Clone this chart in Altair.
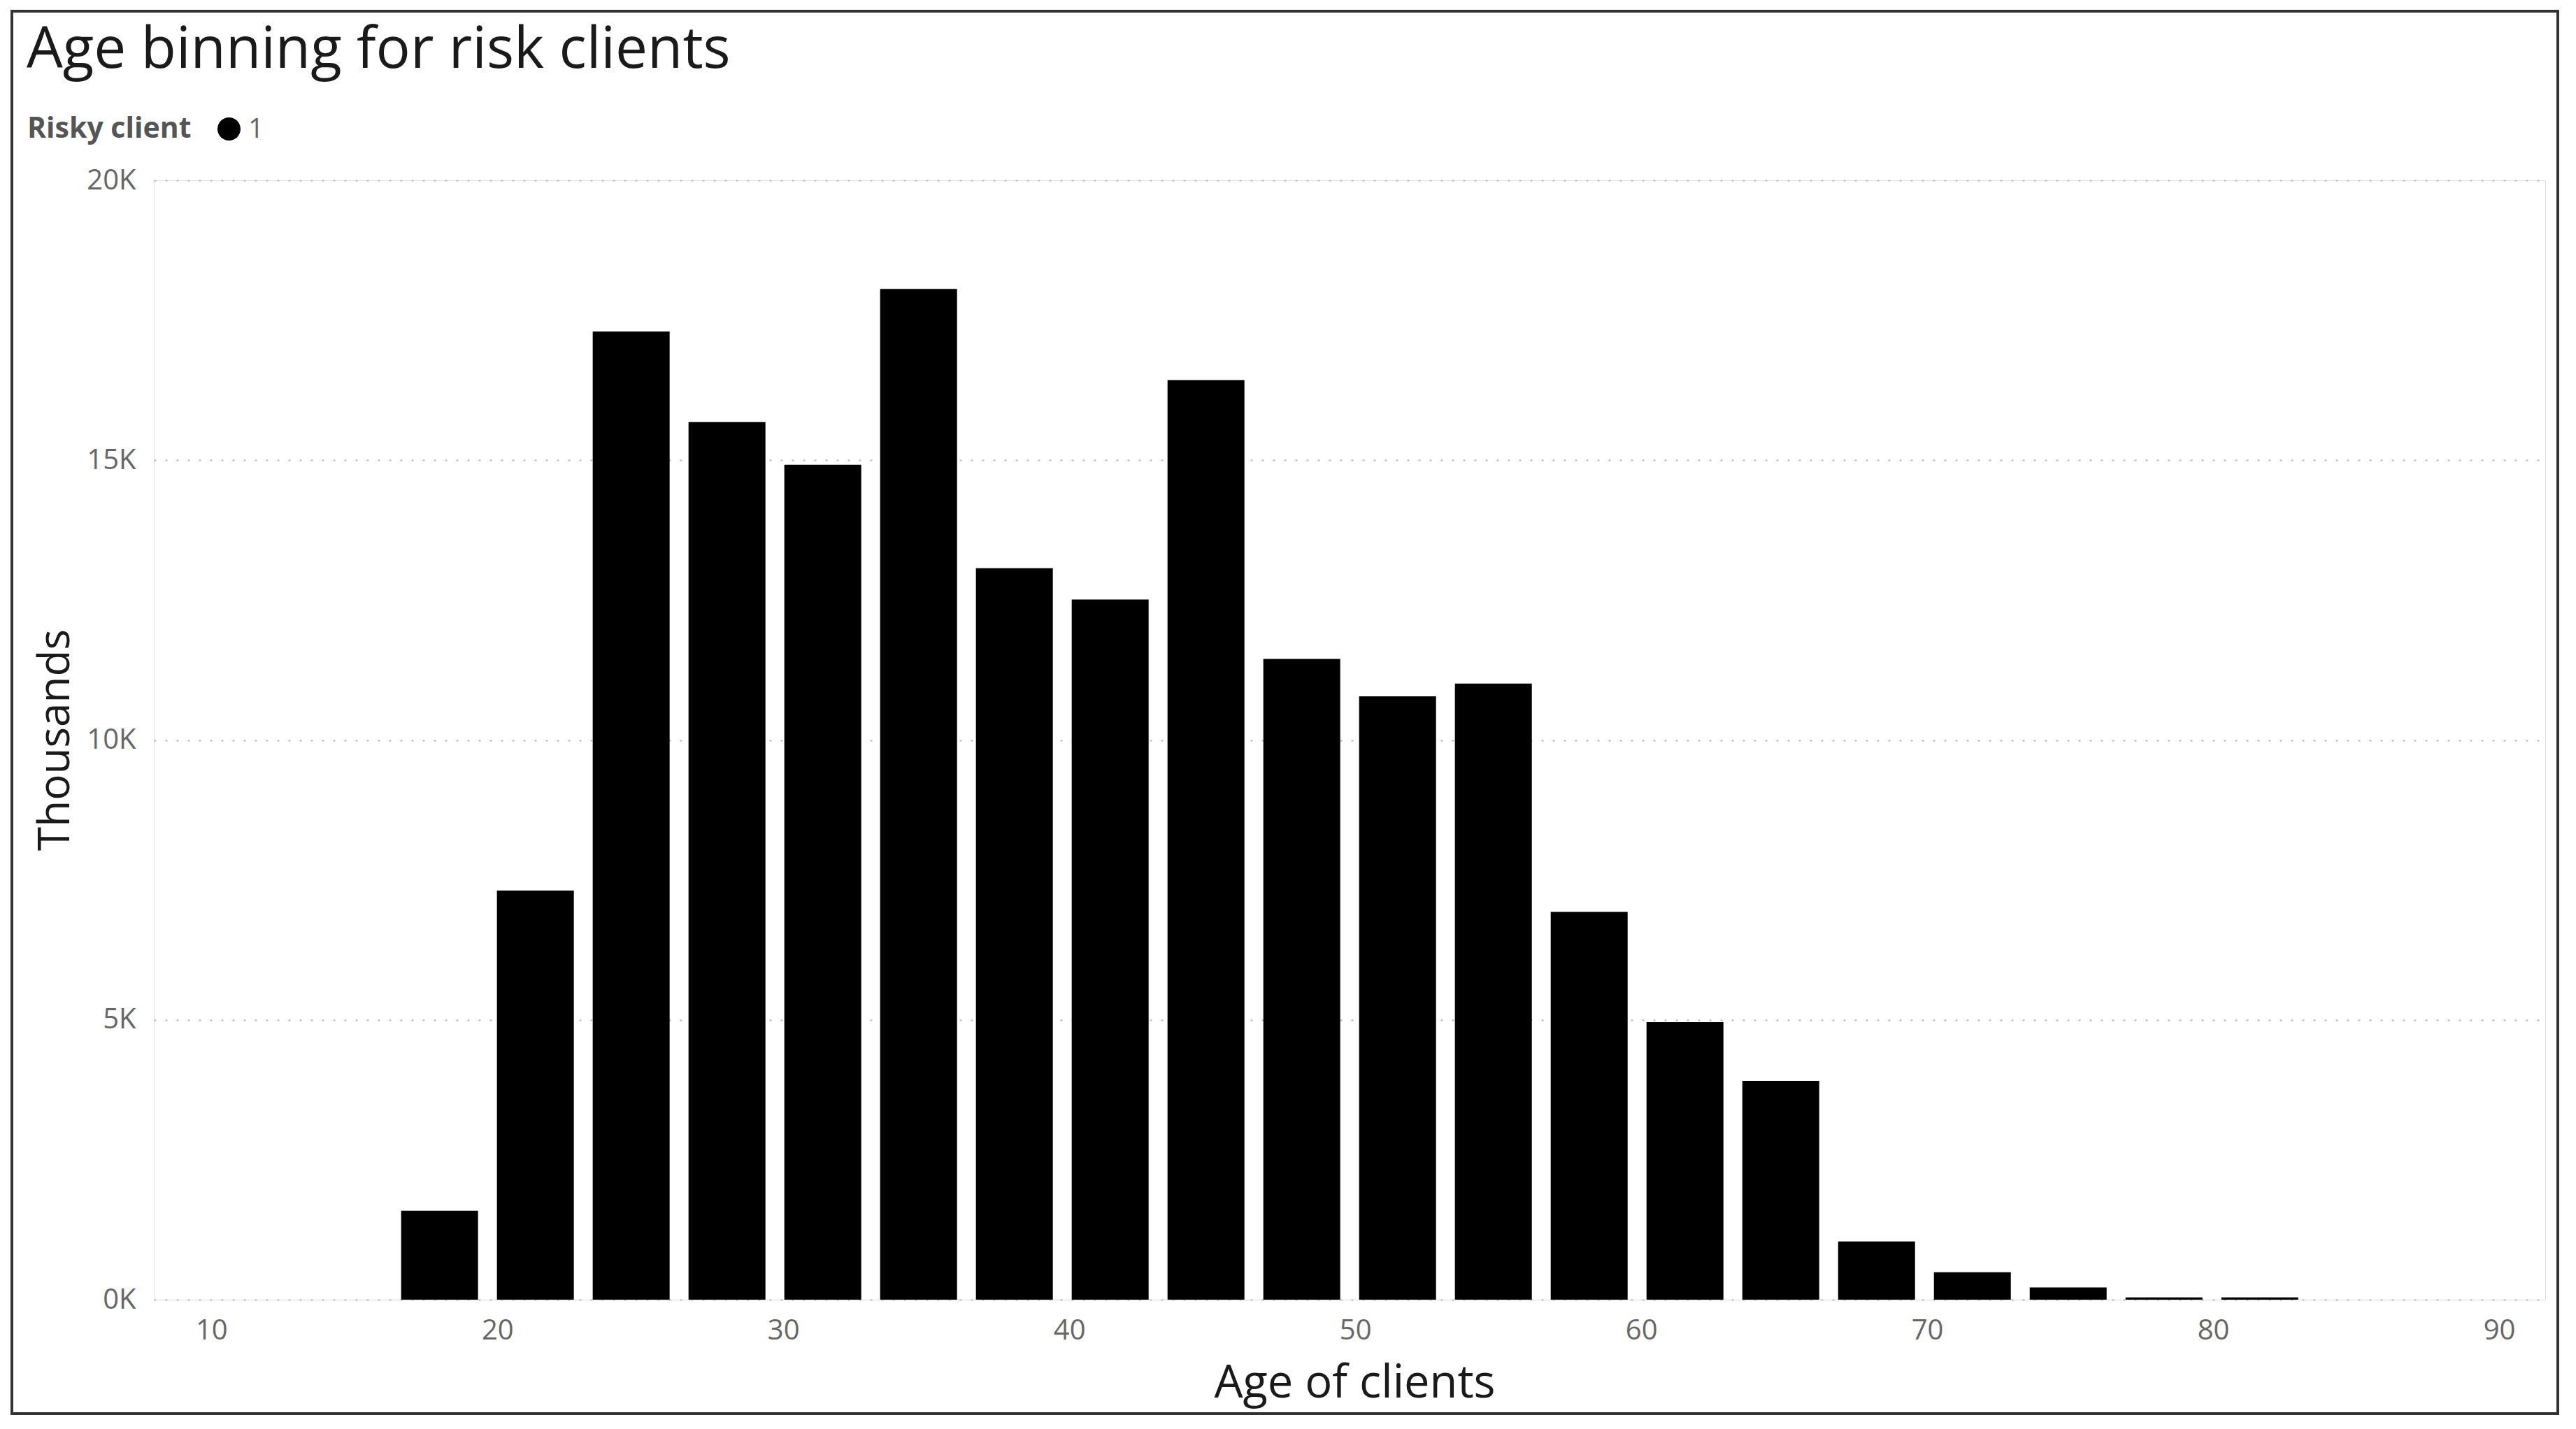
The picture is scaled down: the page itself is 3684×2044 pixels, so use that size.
import altair as alt
import pandas as pd

# Bin centres (age of clients) and risky-client counts
age_bins = [17.98, 21.33, 24.68, 28.03, 31.38, 34.73, 38.08, 41.43, 44.78, 48.13,
            51.48, 54.83, 58.18, 61.53, 64.88, 68.23, 71.58, 74.93, 78.28, 81.63]
counts = [1590, 7310, 17300, 15680, 14920, 18060, 13070, 12510, 16430, 11450,
          10780, 11010, 6930, 4960, 3910, 1040, 490, 220, 40, 40]
risky = ["1"] * len(age_bins)
x_ticks = [10, 20, 30, 40, 50, 60, 70, 80, 90]
y_ticks = [0, 5000, 10000, 15000, 20000]

df = pd.DataFrame({"Age": age_bins, "Count": counts, "Risky client": risky})

FONT = "Open Sans"
W, H = 3420, 1601

bars = alt.Chart(df).mark_bar(size=110, color="#000000").encode(
    x=alt.X("Age:Q",
            scale=alt.Scale(domain=[8.11, 91.49], nice=False, zero=False),
            axis=alt.Axis(values=x_ticks, format="d", title="Age of clients",
                          grid=False, domain=False, ticks=False, tickSize=0,
                          labelFont=FONT, labelFontSize=40, labelColor="#666666",
                          labelPadding=24, labelFlush=False,
                          titleFont=FONT, titleFontSize=65, titleFontWeight="normal",
                          titleColor="#1a1a1a", titleBaseline="alphabetic",
                          titleY=139, titleX=1717)),
    y=alt.Y("Count:Q",
            scale=alt.Scale(domain=[0, 20000], nice=False),
            axis=alt.Axis(values=y_ticks, labelExpr="datum.value / 1000 + 'K'",
                          title="Thousands", grid=True, gridDash=[3, 13],
                          gridColor="#b8b8b8", gridWidth=2,
                          domain=False, ticks=False, tickSize=0,
                          labelFont=FONT, labelFontSize=40, labelColor="#666666",
                          labelPadding=26,
                          titleFont=FONT, titleFontSize=62, titleFontWeight="normal",
                          titleColor="#1a1a1a", titleBaseline="alphabetic",
                          titleAngle=-90, titleAlign="center",
                          titleX=-122, titleY=800)),
    color=alt.Color("Risky client:N",
                    scale=alt.Scale(range=["#000000"]),
                    legend=alt.Legend(orient="none", legendX=-181, legendY=-93,
                                      direction="horizontal", titleOrient="left",
                                      symbolType="circle", symbolSize=1089,
                                      symbolStrokeWidth=0,
                                      titleFont=FONT, titleFontSize=41,
                                      titleFontWeight="bold", titleColor="#555555",
                                      titlePadding=34, titleBaseline="middle",
                                      titleLimit=600, labelLimit=200,
                                      labelFont=FONT, labelFontSize=39,
                                      labelColor="#666666", labelOffset=8,
                                      padding=0)),
)

frame = alt.Chart(pd.DataFrame({"f": [0]})).mark_rect(
    fill=None, stroke="#333333", strokeWidth=4
).encode(
    x=alt.value(-203), x2=alt.value(3438),
    y=alt.value(-242), y2=alt.value(1764),
)

chart = alt.layer(bars, frame).properties(
    width=W, height=H,
    title=alt.TitleParams("Age binning for risk clients", anchor="start",
                          frame="group", font=FONT, fontSize=82,
                          fontWeight="normal", color="#1a1a1a",
                          baseline="alphabetic", dx=-182, offset=0, dy=165),
    autosize=alt.AutoSizeParams(type="none"),
    padding={"left": 212, "top": 250, "right": 36, "bottom": 169},
).configure_view(stroke=None).configure(background="#ffffff")

chart.save("out.html", embed_options={"renderer": "svg", "actions": False})
